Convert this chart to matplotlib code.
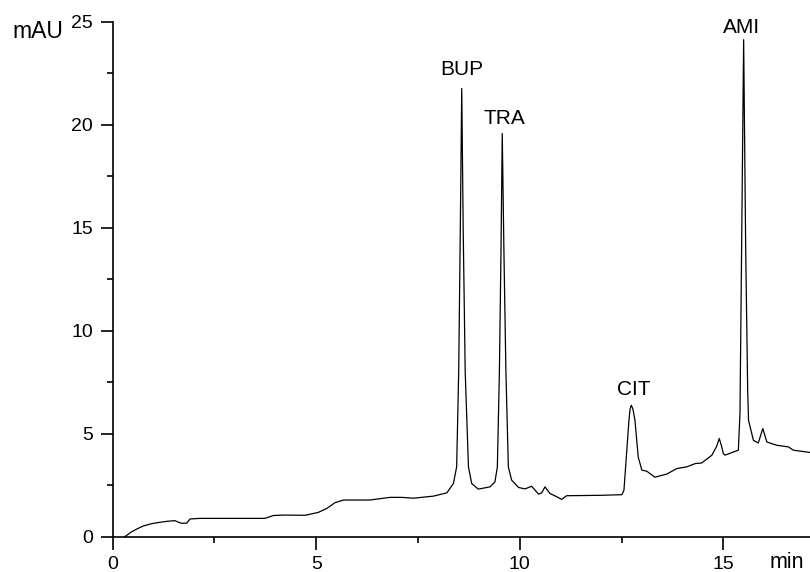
import matplotlib.pyplot as plt
from matplotlib.ticker import MultipleLocator

plt.rcParams['font.family'] = ['Liberation Sans', 'DejaVu Sans']

# retention time (min) and absorbance (mAU)
t = [0.30, 0.45, 0.60, 0.75, 0.95, 1.16, 1.35, 1.53, 1.62, 1.70, 1.82, 1.90,
     2.14, 3.74, 3.95, 4.20, 4.73, 5.05, 5.26, 5.46, 5.67, 6.32, 6.81, 7.10,
     7.39, 7.88, 8.21, 8.37, 8.45, 8.50, 8.54, 8.575, 8.61, 8.66, 8.74, 8.82,
     8.98, 9.27, 9.39, 9.45, 9.50, 9.54, 9.57, 9.61, 9.66, 9.72, 9.80, 9.97,
     10.13, 10.29, 10.46, 10.54, 10.62, 10.74, 10.91, 11.03, 11.15, 12.00,
     12.51, 12.56, 12.63, 12.68, 12.71, 12.74, 12.78, 12.83, 12.91, 13.00,
     13.12, 13.32, 13.61, 13.86, 14.10, 14.31, 14.47, 14.72, 14.84, 14.90,
     14.95, 15.00, 15.04, 15.37, 15.41, 15.45, 15.50, 15.55, 15.60, 15.62,
     15.74, 15.86, 15.97, 16.07, 16.31, 16.60, 16.72, 17.13]
mau = [0.00, 0.22, 0.38, 0.52, 0.63, 0.70, 0.75, 0.78, 0.70, 0.65, 0.66, 0.86,
       0.89, 0.89, 1.03, 1.05, 1.04, 1.18, 1.37, 1.65, 1.78, 1.78, 1.91, 1.91,
       1.87, 1.97, 2.13, 2.58, 3.39, 8.0, 15.0, 21.76, 15.0, 8.0, 3.39, 2.58,
       2.31, 2.42, 2.66, 3.39, 8.0, 14.0, 19.58, 14.0, 8.0, 3.39, 2.75, 2.39,
       2.32, 2.45, 2.07, 2.13, 2.42, 2.10, 1.94, 1.81, 1.99, 2.01,
       2.04, 2.26, 4.20, 5.60, 6.20, 6.38, 6.20, 5.65, 3.87, 3.23,
       3.18, 2.89, 3.04, 3.31, 3.39, 3.55, 3.58, 3.96, 4.40, 4.77,
       4.45, 4.04, 3.96, 4.20, 6.0, 14.0, 24.13, 14.0, 7.0, 5.65,
       4.68, 4.55, 5.25, 4.60, 4.44, 4.36, 4.20, 4.09]

peak_names = ['BUP', 'TRA', 'CIT', 'AMI']
peak_x = [8.58, 9.63, 12.81, 15.45]
peak_y = [22.4, 20.05, 6.9, 24.45]

fig = plt.figure(figsize=(8.1, 5.72), dpi=100)
ax = fig.add_axes([0.1391, 0.0617, 0.8609, 0.9003])
ax.plot(t, mau, color='black', lw=0.9)

for name, x, y in zip(peak_names, peak_x, peak_y):
    ax.text(x, y, name, fontsize=15, ha='center', va='baseline')

ax.set_xlim(0, 17.13)
ax.set_ylim(0, 25)
ax.xaxis.set_major_locator(MultipleLocator(5))
ax.xaxis.set_minor_locator(MultipleLocator(2.5))
ax.yaxis.set_major_locator(MultipleLocator(5))
ax.yaxis.set_minor_locator(MultipleLocator(2.5))
ax.tick_params(which='major', direction='out', length=9, width=1.2, labelsize=14)
ax.tick_params(which='minor', direction='out', length=4.5, width=1.2)
ax.tick_params(axis='x', which='major', pad=5)
ax.tick_params(axis='y', which='major', pad=5)
for side in ['top', 'right']:
    ax.spines[side].set_visible(False)
for side in ['left', 'bottom']:
    ax.spines[side].set_linewidth(1.2)

fig.text(12 / 810, 1 - 38.3 / 572, 'mAU', fontsize=16.5, ha='left', va='baseline')
fig.text(770 / 810, 1 - 568 / 572, 'min', fontsize=15.5, ha='left', va='baseline')

fig.savefig('out.png', dpi=100)
